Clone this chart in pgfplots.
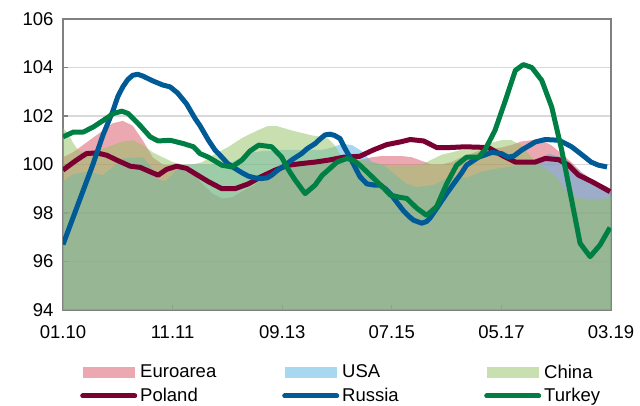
\documentclass[border=0pt]{standalone}
\usepackage{pgfplots}
\pgfplotsset{compat=1.18}
\usepackage{fontspec}
\setmainfont{Liberation Sans}
\definecolor{eurocol}{RGB}{215,81,97}
\definecolor{usacol}{RGB}{81,177,225}
\definecolor{chinacol}{RGB}{145,193,97}
\definecolor{polcol}{RGB}{122,0,50}
\definecolor{ruscol}{RGB}{0,90,150}
\definecolor{turcol}{RGB}{0,127,69}
\definecolor{axgray}{RGB}{128,128,128}
\definecolor{gridgray}{RGB}{217,217,217}
\pgfplotsset{
  arealeg/.style={legend image code/.code={\fill[##1] (0pt,-5.5pt) rectangle (52pt,5.5pt);}},
  lineleg/.style={legend image code/.code={\draw[##1, line cap=round] (0pt,0pt) -- (52pt,0pt);}},
}
\pgfplotstableread{
m v
0 100.3
2 100.5
4 100.8
6 101.1
8 101.4
10 101.7
12 101.8
14 101.6
16 101.0
18 100.3
20 100.0
22 99.95
24 99.9
26 99.6
28 99.2
30 98.8
32 98.6
34 98.65
36 98.9
38 99.1
40 99.4
42 99.7
44 99.95
46 100.05
48 100.1
50 100.15
52 100.2
56 100.2
60 100.2
62 100.3
64 100.35
68 100.35
70 100.3
72 100.15
74 100.0
76 100.0
78 100.1
80 100.3
82 100.45
84 100.6
86 100.65
88 100.7
90 100.8
92 100.95
94 101.0
96 101.0
98 100.8
100 100.45
102 100.1
104 99.7
106 99.4
108 99.2
110 99.0
}\euro
\pgfplotstableread{
m v
0 99.3
2 99.6
5 99.7
8 99.56
10 99.9
12 100.25
16 100.3
17.5 99.97
19 99.4
20.5 99.3
22 99.6
23.5 99.97
26 100.0
30 100.0
34 100.1
36 100.3
38 100.5
40 100.55
44 100.6
48 100.6
52 100.6
54 100.7
56 100.85
58 100.8
60 100.55
62 100.1
64.4 99.97
66.4 99.63
69 99.2
71 99.07
74.3 99.15
77 99.42
79 99.5
81 99.45
84 99.7
87.4 99.84
91 99.95
94 100.04
97.5 100.45
100.8 100.25
104.1 99.63
107.5 99.2
110 98.95
}\usa
\pgfplotstableread{
m v
0 101.5
1 101.3
2 100.9
3 100.6
4 100.5
6 100.5
8 100.65
10 100.8
12 100.95
14 101.0
16 100.8
18 100.5
20 100.3
22 100.1
24 100.0
26 100.0
28 100.1
30.6 100.45
33 100.7
36 101.1
39 101.4
41 101.58
43 101.58
46 101.4
50 101.2
53 101.1
54.5 100.8
56 100.3
58 100.2
60 100.2
62 100.1
64 100.0
66 99.97
70 99.97
72 100.0
74 100.2
76 100.4
78 100.5
80 100.6
84 100.65
86 100.9
88 101.0
90 101.0
92 100.8
94 100.3
95.5 100.0
97 99.8
99 99.5
101 98.9
103 98.65
106 98.55
109 98.6
110 98.7
}\china
\pgfplotstableread{
m v
0 99.77
2.7 100.18
4.7 100.45
6.8 100.48
8.8 100.38
10.8 100.18
13.5 99.93
15.5 99.88
17.5 99.7
19.1 99.56
20.8 99.8
22.8 99.93
24.8 99.84
27.5 99.5
29.2 99.29
31.9 99.0
34.5 99.0
37.2 99.2
39.8 99.5
42.6 99.77
45.2 99.97
47.9 100.04
50.6 100.1
53.3 100.18
56.3 100.3
59.6 100.34
62.3 100.6
65 100.82
67.7 100.93
69.7 101.03
72.4 100.97
75 100.7
77.7 100.7
80.7 100.73
85.4 100.7
88.1 100.38
90.8 100.1
94.8 100.1
96.8 100.25
99.5 100.2
101.5 99.97
103.5 99.56
106.2 99.29
109.8 98.88
}\poland
\pgfplotstableread{
m v
0 96.7
2 97.8
4 98.9
6 100.0
8 101.2
10 102.2
11 102.8
12 103.2
13 103.5
14 103.68
15 103.72
16 103.65
18 103.45
20 103.28
21.5 103.2
23 102.95
24.8 102.5
26.5 101.9
27.5 101.6
29.2 101.0
30.5 100.6
31.9 100.3
33 100.05
34.5 99.84
36 99.65
37.2 99.52
38.5 99.45
39.8 99.42
41 99.45
41.9 99.56
43 99.75
44.6 99.97
46 100.2
47.9 100.45
49 100.65
50.6 100.86
51.6 101.05
52.6 101.22
53.6 101.25
54.5 101.2
55.6 101.07
56.5 100.7
57.6 100.3
58.6 99.9
59.6 99.5
61 99.2
62.5 99.15
63.7 99.15
64.7 99.0
65.7 98.8
67 98.45
68.3 98.1
69.5 97.85
70.4 97.7
72 97.58
73 97.65
73.7 97.8
75.7 98.4
77 98.8
78.4 99.2
80 99.65
81 99.97
83.4 100.3
86.1 100.5
88 100.45
89.4 100.3
90.5 100.35
92.1 100.6
94.8 100.93
96.8 101.03
99.5 101.0
101 100.85
102.1 100.73
104.8 100.3
106 100.1
107.5 99.97
109.2 99.9
}\russia
\pgfplotstableread{
m v
0 101.14
2.1 101.34
4.1 101.34
6.1 101.55
8.1 101.82
10.1 102.1
11.8 102.2
13.1 102.1
14.3 101.85
15.5 101.6
17.5 101.14
19.1 100.97
21.5 101.0
24.2 100.86
26.2 100.73
27.5 100.45
29.2 100.3
31.9 99.97
33.9 99.9
35.9 100.18
37.5 100.55
39.3 100.8
41.9 100.73
43.9 100.3
45.2 99.8
46.6 99.36
48.6 98.8
50.6 99.15
52 99.55
53.6 99.84
55 100.1
57 100.25
58.5 100.15
59.6 99.97
61.5 99.6
63 99.3
64.5 99.0
65.7 98.74
67.5 98.65
69 98.6
71 98.2
73 97.9
75 98.26
77 99.2
79 99.97
81 100.3
83.4 100.3
84.7 100.6
86.7 101.4
88.8 102.64
90.8 103.88
92.4 104.12
94.1 104.0
96.1 103.47
98.1 102.37
100.1 100.6
102.1 98.53
103.8 96.75
105.8 96.2
107.8 96.68
109.8 97.4
}\turkey
\begin{document}
\begin{tikzpicture}
\useasboundingbox (-63pt,-96pt) rectangle (577pt,310pt);
\begin{axis}[
  at={(0,0)}, anchor=south west,
  scale only axis, width=548pt, height=291pt,
  xmin=0, xmax=110, ymin=94, ymax=106,
  xtick={0,22,44,66,88,110},
  xticklabels={01.10,11.11,09.13,07.15,05.17,03.19},
  ytick={94,96,...,106},
  ymajorgrids, grid style={gridgray, line width=1.2pt},
  axis line style={axgray, line width=1.2pt},
  tick style={axgray, line width=1.2pt},
  major tick length=5pt,
  xtick pos=bottom, ytick pos=left,
  tick label style={font=\fontsize{18.5}{20}\selectfont, black},
  /pgf/number format/assume math mode=true,
  yticklabel style={xshift=-6pt},
  xticklabel style={yshift=-12pt},
  legend columns=3,
  legend cell align=left,
  legend style={draw=none, fill=none, at={(0.0256,-0.175)}, anchor=north west,
    font=\fontsize{18.5}{20}\selectfont, row sep=6pt,
    nodes={inner xsep=3pt, inner ysep=1.5pt}},
]
\addplot[fill=eurocol, fill opacity=0.5, draw=none, arealeg] table[x=m,y=v] {\euro} \closedcycle;
\addplot[fill=usacol, fill opacity=0.5, draw=none, arealeg] table[x=m,y=v] {\usa} \closedcycle;
\addplot[fill=chinacol, fill opacity=0.5, draw=none, arealeg] table[x=m,y=v] {\china} \closedcycle;
\addplot[polcol, line width=5pt, line join=round, no marks, lineleg] table[x=m,y=v] {\poland};
\addplot[ruscol, line width=5pt, line join=round, no marks, lineleg] table[x=m,y=v] {\russia};
\addplot[turcol, line width=5pt, line join=round, no marks, lineleg] table[x=m,y=v] {\turkey};
\legend{\makebox[139pt][l]{Euroarea},\makebox[139pt][l]{USA},China,Poland,Russia,Turkey}
\end{axis}
\end{tikzpicture}
\end{document}
